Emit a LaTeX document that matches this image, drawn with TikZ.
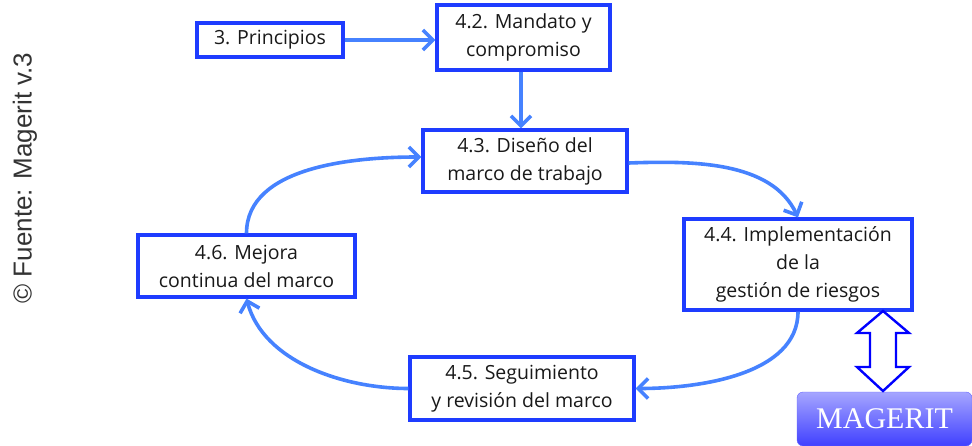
\documentclass[tikz,border=0pt]{standalone}
\usepackage{fontspec}
\setmainfont{Open Sans}
\newfontfamily\srcfont{Liberation Sans}
\newfontfamily\magfont{Liberation Serif}
\usetikzlibrary{arrows.meta,calc}
\definecolor{boxblue}{RGB}{30,60,255}
\definecolor{arrblue}{RGB}{70,130,255}
\tikzset{
  stepbox/.style={draw=boxblue,line width=3.2pt,fill=white,align=center,inner sep=0pt,
    font=\fontsize{19.5}{28}\selectfont,text=black!90},
  flow/.style={draw=arrblue,line width=3.6pt,-{Straight Barb[length=10pt,width=20pt,line width=3.6pt]}},
}
\begin{document}
\begin{tikzpicture}[x=1pt,y=-1pt]
\useasboundingbox (0,0) rectangle (972,446);
\node[stepbox,minimum width=146pt,minimum height=34pt] (prin) at (270,40) {3. Principios};
\node[stepbox,minimum width=173pt,minimum height=65pt] (mand) at (523.5,37.5) {4.2. Mandato y\\compromiso};
\node[stepbox,minimum width=204pt,minimum height=62pt] (dis) at (525,161) {4.3. Diseño del\\marco de trabajo};
\node[stepbox,minimum width=228pt,minimum height=91pt] (impl) at (798,264.5) {4.4. Implementación\\de la\\gestión de riesgos};
\node[stepbox,minimum width=217pt,minimum height=62pt] (mej) at (246.5,266) {4.6. Mejora\\continua del marco};
\node[stepbox,minimum width=224pt,minimum height=63pt] (seg) at (522,388.5) {4.5. Seguimiento\\y revisión del marco};
\node[rounded corners=6pt,minimum width=175pt,minimum height=54pt,inner sep=0pt,
  top color=blue!35!white,bottom color=blue!75!white,draw=blue!60!white,
  text=white,font=\magfont\fontsize{30}{30}\selectfont] (mag) at (884.5,419) {MAGERIT};
\node[rotate=90,font=\srcfont\fontsize{26}{26}\selectfont,text=black!80] (src) at (25,178) {© Fuente: Magerit v.3};
\draw[flow] (prin.east) -- (prin.east -| mand.west);
\draw[flow] (mand.south -| 521,0) -- (dis.north -| 521,0);
\draw[flow] ($(dis.east)+(0,2)$) to[out=2,in=115,looseness=0.9] (impl.north);
\draw[flow] (impl.south) to[out=-90,in=0,looseness=0.9] ($(seg.east)+(0,0)$);
\draw[flow] (seg.west) to[out=180,in=-75,looseness=0.9] (mej.south);
\draw[flow] (mej.north) to[out=90,in=180,looseness=0.9] ($(dis.west)+(0,-4)$);
% double arrow between implementation and MAGERIT
\coordinate (dt) at (883,311);
\coordinate (db) at (883,391);
\draw[draw=blue,line width=2.4pt,fill=white,line join=miter]
  (dt) -- (909,333) -- (896,333) -- (896,367) -- (909,367) -- (db)
  -- (857,367) -- (870,367) -- (870,333) -- (857,333) -- cycle;
\end{tikzpicture}
\end{document}
